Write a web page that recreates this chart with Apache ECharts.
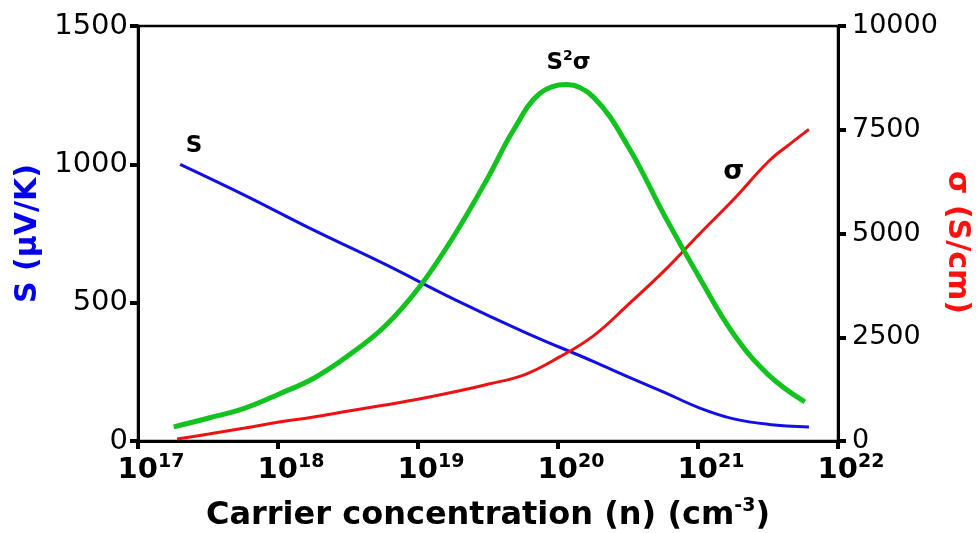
<!DOCTYPE html>
<html>
<head>
<meta charset="utf-8">
<script src="https://cdn.jsdelivr.net/npm/echarts@6/dist/echarts.min.js"></script>
<style>
  html, body { margin: 0; padding: 0; background: #fff; }
  #chart { width: 977px; height: 533px; }
</style>
</head>
<body>
<div id="chart"></div>
<script>
// carrier concentration (cm^-3) for each curve
var nS = [2.0e17, 5.8e17, 1.8e18, 5.8e18, 1.8e19, 5.8e19, 1.8e20, 3.2e20, 5.8e20, 1.02e21, 1.8e21, 3.2e21, 6.2e21];
var sVals = [1000, 888, 762, 639, 513, 393, 287, 231, 175, 120, 80, 60, 51];

var nSigma = [1.9e17, 3.2e17, 5.8e17, 1.02e18, 1.8e18, 3.2e18, 5.8e18, 1.02e19, 1.8e19, 3.2e19, 5.8e19, 1.02e20, 1.8e20, 3.2e20, 5.8e20, 1.02e21, 1.8e21, 3.2e21, 4.6e21, 6.2e21];
var sigmaVals = [48, 168, 313, 457, 578, 722, 867, 1011, 1179, 1372, 1600, 2020, 2540, 3298, 4116, 4982, 5825, 6740, 7173, 7510];

var nPf = [1.8e17, 3.2e17, 5.8e17, 1.02e18, 1.8e18, 3.2e18, 5.8e18, 1.02e19, 1.8e19, 3.2e19, 4.8e19, 7.4e19, 1.15e20, 1.8e20, 3.2e20, 5.8e20, 1.02e21, 1.8e21, 3.2e21, 5.8e21];
var pfVals = [51, 83, 119, 170, 227, 310, 415, 556, 740, 957, 1123, 1256, 1289, 1242, 1061, 812, 592, 386, 238, 141];

var leftTicks = [0, 1500, 500];
var rightTicks = [0, 10000, 2500];

var FONT = 'DejaVu Sans';
var chart = echarts.init(document.getElementById('chart'));

function pairs(xs, ys) {
    var out = [];
    for (var i = 0; i < xs.length; i++) out.push([xs[i], ys[i]]);
    return out;
}

// peak of S²σ, used to hang its label
var pfPeak = pfVals.indexOf(Math.max.apply(null, pfVals));

var hidden = { color: 'rgba(0,0,0,0)' };

var option = {
    animation: false,
    grid: {
        left: 138, right: 139, top: 26, bottom: 92,
        outerBoundsMode: 'none',
        show: true, borderColor: '#000', borderWidth: 2.5
    },
    xAxis: {
        type: 'log',
        logBase: 10,
        min: 1e17,
        max: 1e22,
        name: 'Carrier concentration (n) (cm{s|-3})',
        nameLocation: 'middle',
        nameGap: 56,
        nameTextStyle: {
            fontFamily: FONT, fontSize: 32, fontWeight: 'bold', color: '#000',
            rich: {
                s: { fontFamily: FONT, fontSize: 19, fontWeight: 'bold', color: '#000', verticalAlign: 'top', lineHeight: 38 }
            }
        },
        axisLine: { lineStyle: { color: '#000', width: 3 } },
        axisTick: { length: 8, lineStyle: { color: '#000', width: 4 } },
        minorTick: { show: false },
        splitLine: { show: false },
        axisLabel: {
            margin: 12,
            formatter: function (v) {
                return '{b|10}{s|' + Math.round(Math.log10(v)) + '}';
            },
            rich: {
                b: { fontFamily: FONT, fontSize: 29, fontWeight: 'bold', color: '#000', lineHeight: 34, padding: [0, 0, 0, 26] },
                s: { fontFamily: FONT, fontSize: 19, fontWeight: 'bold', color: '#000', verticalAlign: 'top', lineHeight: 34 }
            }
        }
    },
    yAxis: [{
        type: 'value',
        position: 'left',
        min: leftTicks[0], max: leftTicks[1], interval: leftTicks[2],
        name: 'S (μV/K)',
        nameLocation: 'middle',
        nameGap: 94,
        nameTextStyle: { fontFamily: FONT, fontSize: 30, fontWeight: 'bold', color: '#0000ee' },
        axisLine: { show: true, lineStyle: { color: '#000', width: 3 } },
        axisTick: { show: true, length: 8, lineStyle: { color: '#000', width: 4 } },
        splitLine: { show: false },
        axisLabel: {
            margin: 10, fontFamily: FONT, fontSize: 29, color: '#000',
            formatter: function (v) { return String(v); }
        }
    }, {
        type: 'value',
        position: 'right',
        min: rightTicks[0], max: rightTicks[1], interval: rightTicks[2],
        name: 'σ (S/cm)',
        nameLocation: 'middle',
        nameGap: 104,
        nameMoveOverlap: false,
        nameRotate: -90,
        nameTextStyle: { fontFamily: FONT, fontSize: 30, fontWeight: 'bold', color: '#ff1010', padding: [0, 0, 0, 18] },
        axisLine: { show: true, lineStyle: { color: '#000', width: 3 } },
        axisTick: { show: true, length: 8, lineStyle: { color: '#000', width: 4 } },
        splitLine: { show: false },
        axisLabel: {
            margin: 14, fontFamily: FONT, fontSize: 27, color: '#000',
            formatter: function (v) { return String(v); }
        }
    }],
    series: [{
        name: 'S',
        type: 'line',
        yAxisIndex: 0,
        smooth: 0.4,
        showSymbol: false,
        lineStyle: { color: '#1010e6', width: 3 },
        data: pairs(nS, sVals),
        markPoint: {
            symbol: 'circle', symbolSize: 2, itemStyle: hidden,
            data: [{ coord: [nS[0], sVals[0]] }],
            label: {
                show: true, formatter: 'S', offset: [14, -18],
                fontFamily: FONT, fontSize: 23, fontWeight: 'bold', color: '#000'
            }
        }
    }, {
        name: 'σ',
        type: 'line',
        yAxisIndex: 1,
        smooth: 0.4,
        showSymbol: false,
        lineStyle: { color: '#ee1111', width: 3 },
        data: pairs(nSigma, sigmaVals),
        markPoint: {
            symbol: 'circle', symbolSize: 2, itemStyle: hidden,
            data: [{ coord: [nSigma[17], sigmaVals[17]] }],
            label: {
                show: true, formatter: 'σ', offset: [-35, 11],
                fontFamily: FONT, fontSize: 27, fontWeight: 'bold', color: '#000'
            }
        }
    }, {
        name: 'S²σ',
        type: 'line',
        yAxisIndex: 0,
        smooth: 0.4,
        showSymbol: false,
        lineStyle: { color: '#12c21f', width: 5 },
        data: pairs(nPf, pfVals),
        markPoint: {
            symbol: 'circle', symbolSize: 2, itemStyle: hidden,
            data: [{ coord: [nPf[pfPeak], pfVals[pfPeak]] }],
            label: {
                show: true, formatter: '{a|S}{s|2}{a|σ}', offset: [2, -21],
                rich: {
                    a: { fontFamily: FONT, fontSize: 23, fontWeight: 'bold', color: '#000', lineHeight: 28 },
                    s: { fontFamily: FONT, fontSize: 14, fontWeight: 'bold', color: '#000', verticalAlign: 'top', lineHeight: 28 }
                }
            }
        }
    }]
};

chart.setOption(option);
</script>
</body>
</html>
